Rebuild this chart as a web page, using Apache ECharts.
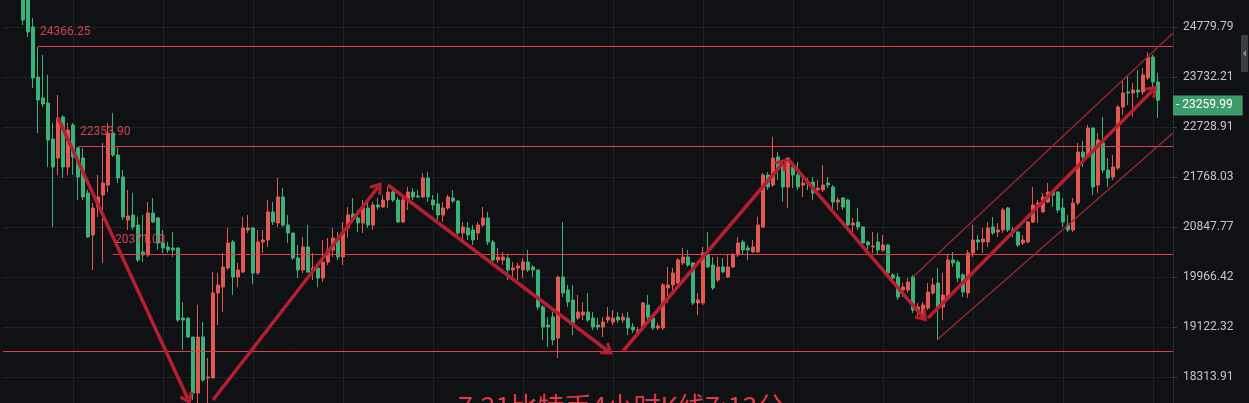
<!DOCTYPE html>
<html><head><meta charset="utf-8">
<script src="https://cdn.jsdelivr.net/npm/echarts@6/dist/echarts.min.js"></script>
<style>html,body{margin:0;padding:0;background:#101114;}#c{width:1249px;height:403px;}</style>
</head><body><div id="c"></div>
<script>
// ---- data ----
const yTickLabels = ['24779.79','23732.21','22728.91','21768.03','20847.77','19966.42','19122.32','18313.91'];
const opens = [
25807,25585,24780,23732,23306,23205,22494,22128,22926,21957,
22768,22321,22128,21469,20704,21211,21432,21618,22612,22186,
21768,20974,21065,20884,20402,20350,21102,21011,20562,20491,
20473,20473,19272,19272,18958,18062,18958,18298,18298,19692,
19795,20122,20580,19966,20053,20794,20830,20035,20580,20615,
21120,20920,21395,20884,20740,20297,20088,20491,20088,20122,
19949,20227,20438,20615,20315,20830,21083,21011,20920,21193,
20884,21248,21211,21340,21488,21340,20938,21340,21488,21414,
21395,21749,21340,21266,21065,21193,21377,21321,20740,20830,
20794,20740,20884,21011,20580,20262,20262,20297,20088,20122,
20088,20227,20140,20088,19456,19155,19288,18942,19966,19743,
19574,19272,19322,19372,19272,19155,19122,19238,19205,19288,
19238,19272,19122,19040,19122,19489,19272,19106,19106,19778,
19829,19863,20210,20315,20210,19523,19523,20350,20175,19915,
20140,19966,20140,20350,20580,20473,20403,20403,20848,21806,
21618,22147,21995,21581,21957,21806,21618,21674,21674,21525,
21525,21656,21581,21303,21377,21340,20884,20938,20848,20580,
20491,20580,20438,20526,20001,19966,19743,19743,19966,19405,
19288,19439,19692,19863,19456,19624,20262,20227,20001,19692,
20385,20615,20580,20580,20848,20758,20794,21193,20794,20758,
20562,20580,20938,21248,21120,21303,21488,21488,21193,20884,
20794,21285,22243,22147,22709,21618,22417,21900,21768,21938,
23125,23427,23406,23467,23427,23712,24146,23630];
const closes = [
24930,24673,23712,23265,23185,22475,21957,22907,21957,22670,
22147,21768,21395,20669,21193,21395,21656,22612,22186,21749,
21029,21047,20848,20262,20350,21102,20938,20562,20473,20438,
20438,19238,19238,18958,18062,18958,18266,18314,19692,19829,
20140,20562,19966,20088,20830,20830,20035,20580,20615,21120,
20938,21395,20884,20740,20297,20088,20491,20053,20122,19949,
20227,20438,20651,20315,20758,21065,21011,20920,21193,20884,
21248,21211,21340,21488,21340,20938,21340,21488,21395,21395,
21749,21395,21248,21065,21193,21395,21321,20740,20848,20704,
20615,20884,21011,20580,20262,20315,20315,20088,20122,20157,
20227,20088,20088,19456,19122,19122,18909,19966,19692,19540,
19188,19372,19372,19238,19122,19122,19205,19288,19272,19238,
19288,19106,19073,19073,19523,19288,19106,19139,19829,19829,
20035,20262,20315,20175,19523,19574,20385,20140,19778,20140,
20053,20140,20350,20562,20438,20438,20491,20884,21806,21581,
22128,21900,21581,22128,21806,21581,21656,21637,21469,21562,
21618,21618,21303,21340,21211,20884,20920,20848,20562,20526,
20508,20438,20526,20035,19949,19624,19795,19880,19405,19456,
19489,19709,19829,19456,19658,20262,20210,19949,19709,20385,
20615,20580,20633,20830,20740,20794,21156,20794,20758,20526,
20615,20938,21248,21285,21395,21488,21432,21156,20938,20794,
21285,22243,22147,22709,21581,22475,21900,21749,21957,23125,
23406,23406,23467,23427,23774,24146,23630,23259.99];
const lows = [
24823,24567,23508,22612,23125,21957,20848,21806,21750,21806,
21806,21340,21340,20651,20088,21029,20210,21488,22147,21656,
20974,20794,20794,20227,20227,20315,20920,20438,20385,20385,
20315,19205,18746,18941,17954,17876,18235,17876,18298,19155,
19372,20088,19658,19795,20035,20740,19846,20001,20385,20491,
20884,20848,20848,20562,20262,19949,20035,20035,19915,19795,
19880,20175,20315,20262,20175,20651,20920,20758,20740,20830,
20794,21156,21193,21193,21303,20920,20920,21156,21340,21377,
21377,21303,21156,20974,20938,21156,21285,20704,20562,20615,
20526,20615,20848,20526,20227,20210,20175,19915,19897,19915,
19949,20053,19966,19405,18909,18795,18827,18617,19624,19456,
18991,19238,19238,19205,19073,19073,18958,19188,19155,19188,
19188,18991,19024,19024,19073,19238,19073,19073,19073,19523,
19743,19829,20175,20140,19489,19322,19489,20122,19743,19880,
20035,19949,20122,20315,20350,20262,20385,20385,20830,21525,
21581,21712,21303,21193,21562,21525,21395,21525,21340,21488,
21488,21562,21120,21156,21156,20848,20758,20794,20526,20403,
20385,20350,20403,19966,19915,19574,19624,19692,19355,19288,
19272,19405,19658,18909,19238,19607,20140,19880,19624,19607,
20315,20438,20385,20491,20704,20669,20740,20758,20669,20491,
20526,20562,20920,20920,21102,21285,21211,21102,20848,20758,
20758,21248,21957,22128,21432,21469,21844,21581,21712,21900,
22966,23165,22926,23306,23366,23671,23528,22906];
const highs = [
26031,25807,24973,24356,24188,23774,22808,23366,22966,22808,
22808,22340,22321,21525,21285,21806,22417,22808,23006,22321,
21900,21525,21469,21029,21065,21303,21377,21029,20794,20580,
20758,20491,19540,19272,18958,19489,19205,18617,20053,20035,
20385,20830,20615,20210,21029,21065,20848,20794,20794,21340,
21303,21749,21562,21065,20740,20526,20669,20884,20385,20210,
20615,20651,20830,20758,20938,21211,21377,21156,21340,21285,
21303,21377,21432,21581,21525,21395,21377,21581,21562,21525,
21844,21862,21432,21469,21303,21432,21525,21340,20938,20938,
20884,20938,21211,21120,20615,20473,20403,20350,20227,20210,
20297,20438,20175,20088,19489,19288,19372,19990,20938,19829,
19829,19658,19540,19692,19372,19272,19288,19456,19405,19372,
19355,19372,19188,19122,19540,19658,19322,19188,19863,20140,
20122,20297,20473,20438,20227,19692,20491,20758,20315,20315,
20297,20350,20385,20669,20615,20526,20615,21029,21844,21862,
22534,22243,22033,22145,22033,22052,21749,21749,21768,21712,
21995,21768,21618,21395,21395,21360,21011,21193,20860,20600,
20758,20740,20704,20540,20035,20035,19863,19949,20001,19523,
19540,19863,19949,20122,20035,20350,20403,20262,20035,20438,
20884,20704,20830,20938,21029,20920,21193,21211,20848,20770,
20704,20950,21581,21340,21469,21656,21525,21500,21377,21065,
21377,22417,22456,22768,22720,22612,22926,22128,22186,23165,
23671,23774,23610,23876,23917,24250,24188,23815];
const leadingSlots = 4;
const totalSlots = 235;
const categories = Array.from({length: totalSlots}, (_, k) => String(k));

const levelPrices = [24366.25, 22353.90, 20371.03, 18730];
const levelLabels = ['24366.25', '22353.90', '20371.03', ''];
const levelStartSlot = [7, 15, 22, 0];

const arrowFrom = [[11, 22906], [42, 17954], [77, 21618], [124, 18730], [157, 22109], [185, 19272]];
const arrowTo   = [[37, 17969], [75, 21581], [121, 18730], [156, 22033], [184, 19288], [230, 23467]];
const channelFrom = [[182, 19966], [187, 18925]];
const channelTo   = [[234, 24652], [234, 22612]];

const lastPrice = 23259.99;
const lastPriceLabel = '23259.99';
const titleText = '7.21比特币4小时K线7:13分';

// ---- chart ----
const L = Math.log;
const tickLn = yTickLabels.map(s => L(parseFloat(s)));
const step = (tickLn[0] - tickLn[tickLn.length - 1]) / (tickLn.length - 1);
const yMin = tickLn[tickLn.length - 1] - step;
const yMax = tickLn[0] + step;

const candleData = opens.map((o, i) => [i + leadingSlots, L(o), L(closes[i]), L(lows[i]), L(highs[i])]);
const lastSlot = totalSlots - 1;

const levelLines = levelPrices.map((p, j) => [
  { coord: [levelStartSlot[j], L(p)],
    label: { show: !!levelLabels[j], formatter: levelLabels[j] } },
  { coord: [lastSlot, L(p)] }
]);

const chevron = 'path://M0,10 L7,0 L14,10 L11.4,11.6 L7,4.8 L2.6,11.6 Z';
const arrowLines = arrowFrom.map((a, j) => [
  { coord: [a[0], L(a[1])], symbol: 'none', lineStyle: { color: '#b51f2e', width: 3.5, type: 'solid' } },
  { coord: [arrowTo[j][0], L(arrowTo[j][1])], symbol: chevron, symbolSize: [15, 12] }
]);
const channelLines = channelFrom.map((a, j) => [
  { coord: [a[0], L(a[1])], lineStyle: { color: '#9a2430', width: 1.5, type: 'solid' } },
  { coord: [channelTo[j][0], L(channelTo[j][1])] }
]);

const chart = echarts.init(document.getElementById('c'), null, { renderer: 'canvas' });
chart.setOption({
  backgroundColor: '#101114',
  animation: false,
  textStyle: { fontFamily: 'Roboto, "Noto Sans", sans-serif' },
  title: {
    text: titleText, left: 453, top: 388,
    textStyle: { color: '#e23a46', fontSize: 27, fontWeight: 'normal', fontFamily: '"Noto Sans CJK SC", sans-serif' }
  },
  grid: { left: 3, right: 76, top: -23, bottom: -24, outerBoundsMode: 'none', containLabel: false },
  xAxis: {
    type: 'category', data: categories, boundaryGap: false,
    axisLine: { show: false }, axisTick: { show: false }, axisLabel: { show: false },
    splitLine: { show: true, interval: (idx) => (idx - 14) % 18 === 0, lineStyle: { color: '#1e2126', width: 1 } }
  },
  yAxis: {
    type: 'value', position: 'right', min: yMin, max: yMax, interval: step, scale: true,
    axisLine: { show: true, lineStyle: { color: '#2a2d33' } },
    axisTick: { show: true, length: 4, lineStyle: { color: '#3a3d44' } },
    axisLabel: {
      color: '#c3c6cd', fontSize: 12, margin: 10,
      formatter: (v) => { for (let j = 0; j < tickLn.length; j++) { if (Math.abs(tickLn[j] - v) < step * 0.25) return yTickLabels[j]; } return ''; }
    },
    splitLine: { show: true, lineStyle: { color: '#1e2126' } }
  },
  graphic: [
    { type: 'rect', left: 1241, top: 35, shape: { width: 7, height: 37, r: 1 }, style: { fill: '#3a3d44' } },
    { type: 'polygon', shape: { points: [[1246, 50], [1243, 53.5], [1246, 57]] }, style: { fill: '#8a8d94' } }
  ],
  series: [
    {
      type: 'line', data: [], z: 1, silent: true,
      markLine: {
        silent: true, animation: false, symbol: ['none', 'none'],
        lineStyle: { color: '#dc3f4c', width: 1, type: 'solid' },
        label: { show: true, position: 'insideStartTop', distance: [2, 8], color: '#cf4450', fontSize: 12 },
        emphasis: { disabled: true },
        data: levelLines
      }
    },
    {
      type: 'candlestick', z: 2, barWidth: 3,
      encode: { x: 0, y: [1, 2, 3, 4] },
      data: candleData,
      itemStyle: { color: '#e05a52', color0: '#3bb27a', borderColor: '#e05a52', borderColor0: '#3bb27a', borderWidth: 1 },
      markLine: {
        silent: true, animation: false, symbol: ['none', 'none'],
        lineStyle: { color: 'rgba(0,0,0,0)', width: 0, type: 'solid' },
        label: {
          show: true, position: 'end', distance: 0, formatter: '- ' + lastPriceLabel,
          color: '#ffffff', fontSize: 12, backgroundColor: '#3e9b6c', padding: [4, 10, 4, 3]
        },
        emphasis: { disabled: true },
        data: [{ yAxis: L(lastPrice) }]
      }
    },
    {
      type: 'line', data: [], z: 5, silent: true,
      markLine: {
        silent: true, animation: false, symbol: ['none', 'none'],
        lineStyle: { type: 'solid' },
        label: { show: false },
        emphasis: { disabled: true },
        data: arrowLines.concat(channelLines)
      }
    }
  ]
});
</script></body></html>
